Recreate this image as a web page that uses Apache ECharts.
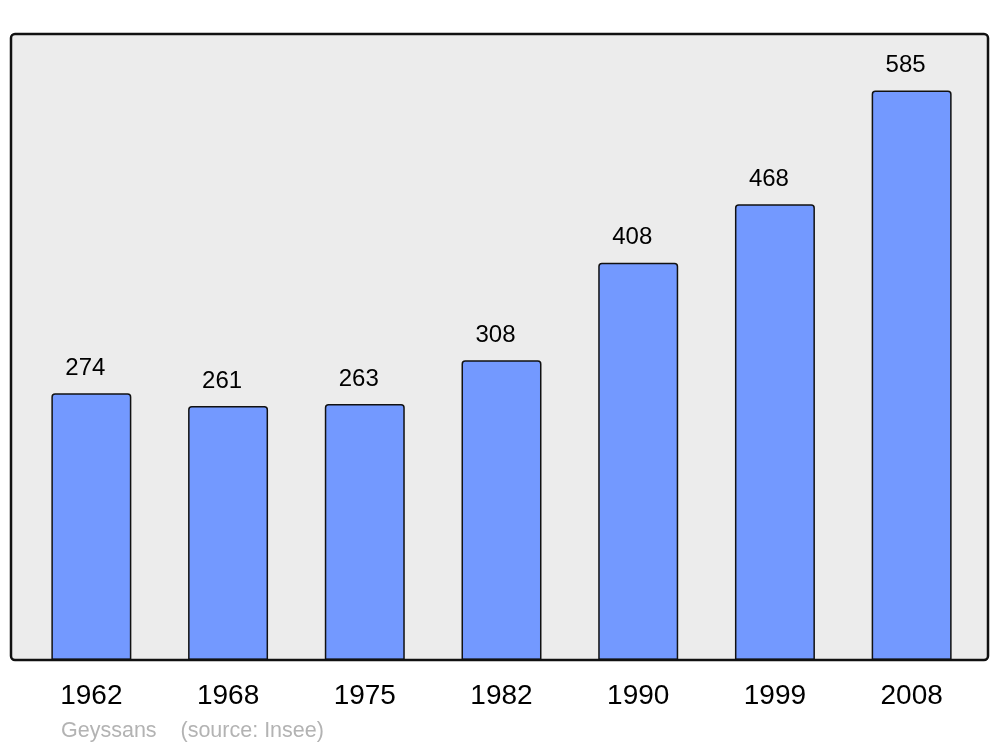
<!DOCTYPE html>
<html>
<head>
<meta charset="utf-8">
<script src="https://cdn.jsdelivr.net/npm/echarts@6/dist/echarts.min.js"></script>
<style>html,body{margin:0;padding:0;background:#fff;}#c{width:1000px;height:747px;}</style>
</head>
<body>
<div id="c"></div>
<script>
const years = ['1962','1968','1975','1982','1990','1999','2008'];
const population = [274, 261, 263, 308, 408, 468, 585];
const sourceText = 'Geyssans    (source: Insee)';

const chart = echarts.init(document.getElementById('c'), null, {renderer: 'canvas'});
const FONT = '"Liberation Sans", Arial, sans-serif';
chart.setOption({
  animation: false,
  backgroundColor: '#ffffff',
  grid: {left: 23, right: 20, top: 34, bottom: 87},
  xAxis: {
    type: 'category',
    data: years,
    axisLine: {show: false},
    axisTick: {show: false},
    axisLabel: {color: '#000', fontSize: 28, fontFamily: FONT, margin: 22}
  },
  yAxis: {
    type: 'value',
    min: 0,
    max: 643,
    show: false,
    splitLine: {show: false}
  },
  graphic: [
    {type: 'rect', z: -10, shape: {x: 11, y: 34, width: 977, height: 626, r: 4},
     style: {fill: '#ececec', stroke: null}},
    {type: 'rect', z: 100, shape: {x: 11, y: 34, width: 977, height: 626, r: 4},
     style: {fill: null, stroke: '#111', lineWidth: 2.5}},
    {type: 'text', left: 61, top: 720, z: 100,
     style: {text: sourceText, fill: '#b3b3b3', font: '21.5px ' + FONT}}
  ],
  series: [{
    type: 'bar',
    data: population,
    barWidth: '58.5%',
    itemStyle: {color: '#7399ff', borderColor: '#111', borderWidth: 1.5, borderRadius: [3, 3, 0, 0]},
    label: {show: true, position: 'top', distance: 13, offset: [-6, 0],
      color: '#000', fontSize: 24, fontFamily: FONT}
  }]
});
</script>
</body>
</html>
